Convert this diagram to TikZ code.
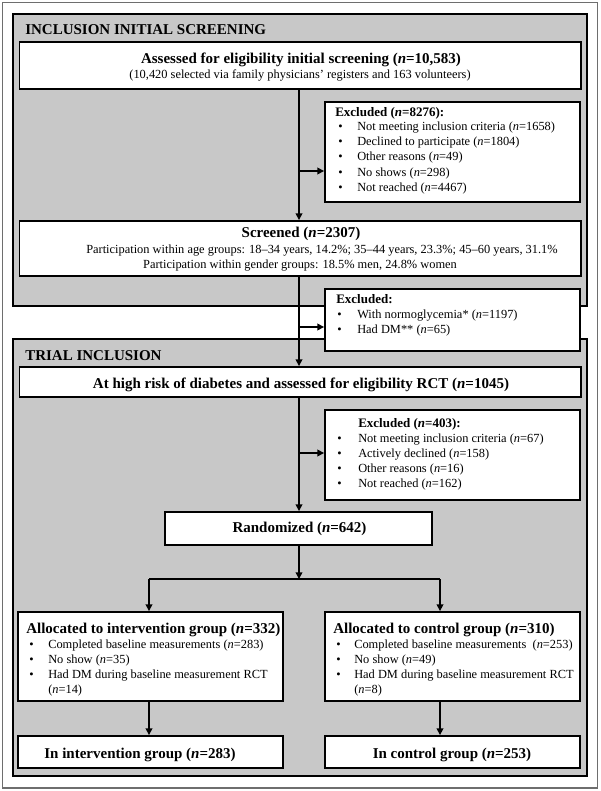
\documentclass[tikz,border=0pt]{standalone}
\usepackage{fontspec}
\setmainfont{Liberation Serif}
\usetikzlibrary{arrows.meta,calc}
\definecolor{panelgray}{RGB}{200,200,200}
\definecolor{framegray}{RGB}{110,110,110}
\tikzset{
  panel/.style={draw=black, line width=2.2pt, fill=panelgray, inner sep=0pt},
  wbox/.style={draw=black, line width=1.4pt, fill=white, inner sep=0pt},
  frame/.style={draw=framegray, line width=0.8pt, inner sep=0pt},
  head/.style={font=\fontsize{11.25}{13}\selectfont\bfseries, inner sep=0pt},
  subhead/.style={font=\fontsize{9.75}{11}\selectfont\bfseries, inner sep=0pt},
  reg/.style={font=\fontsize{9.3}{11.4}\selectfont, inner sep=0pt},
  arr/.style={-{Triangle[length=5pt,width=5pt]}, line width=1.1pt},
  ln/.style={line width=1.1pt},
}
\newcommand{\mkbox}[6]{%
  \node[#1, minimum width={(#5-#3)*0.75pt}, minimum height={(#6-#4)*0.75pt}] (#2) at ({(#3+#5)/2},{(#4+#6)/2}) {};}
\newcommand{\bitem}[5]{%
  \node[reg, anchor=base west] (#1b) at (#2,#4) {\textbullet};
  \node[reg, anchor=base west] (#1) at (#3,#4) {#5};}
\begin{document}
\begin{tikzpicture}[x=0.75pt,y=-0.75pt]
\useasboundingbox (0,0) rectangle (600,791);
% outer frame
\mkbox{frame}{outer}{2.7}{2.7}{597.5}{788}
% panels
\mkbox{panel}{p1}{13}{14}{587}{306}
\mkbox{panel}{p2}{13}{339}{587}{776}
\node[head, anchor=base west] (t1) at (25,34.5) {INCLUSION INITIAL SCREENING};
\node[head, anchor=base west] (t2) at (25,360) {TRIAL INCLUSION};
% boxes
\mkbox{wbox}{assess}{19.5}{42}{581}{89}
\mkbox{wbox}{ex1}{325}{102}{580}{202}
\mkbox{wbox}{screened}{19.5}{221}{581}{276}
\mkbox{wbox}{ex2}{325}{289}{580}{351}
\mkbox{wbox}{highrisk}{19.5}{367}{581}{397}
\mkbox{wbox}{ex3}{325}{410}{580}{500}
\mkbox{wbox}{rand}{165}{512}{432}{545}
\mkbox{wbox}{allocL}{18}{612}{283}{701}
\mkbox{wbox}{allocR}{325}{612}{580}{701}
\mkbox{wbox}{finL}{18}{736}{283}{768}
\mkbox{wbox}{finR}{325}{736}{580}{768}
% texts
\node[head, anchor=base] (assessT) at (301,64) {Assessed for eligibility initial screening ({\itshape n}=10,583)};
\node[reg, anchor=base] (assessS) at (300,79) {(10,420 selected via family physicians’ registers and 163 volunteers)};
\node[subhead, anchor=base west] (ex1T) at (335,116.5) {Excluded ({\itshape n}=8276):};
\bitem{ex1a}{338}{357}{130.5}{Not meeting inclusion criteria ({\itshape n}=1658)}
\bitem{ex1c}{338}{357}{145.7}{Declined to participate ({\itshape n}=1804)}
\bitem{ex1d}{338}{357}{160.9}{Other reasons ({\itshape n}=49)}
\bitem{ex1e}{338}{357}{176.1}{No shows ({\itshape n}=298)}
\bitem{ex1f}{338}{357}{191.3}{Not reached ({\itshape n}=4467)}
\node[head, anchor=base] (scrT) at (301,238) {Screened ({\itshape n}=2307)};
\node[reg, anchor=base] (scrA) at (322,254) {Participation within age groups: 18–34 years, 14.2\%; 35–44 years, 23.3\%; 45–60 years, 31.1\%};
\node[reg, anchor=base] (scrB) at (300,269) {Participation within gender groups: 18.5\% men, 24.8\% women};
\node[subhead, anchor=base west] (ex2T) at (336,303.5) {Excluded:};
\bitem{ex2a}{337}{357}{318}{With normoglycemia* ({\itshape n}=1197)}
\bitem{ex2b}{337}{357}{333}{Had DM** ({\itshape n}=65)}
\node[head, anchor=base] (hrT) at (301,388) {At high risk of diabetes and assessed for eligibility RCT ({\itshape n}=1045)};
\node[subhead, anchor=base west] (ex3T) at (358,427.5) {Excluded ({\itshape n}=403):};
\bitem{ex3a}{337}{358}{442}{Not meeting inclusion criteria ({\itshape n}=67)}
\bitem{ex3b}{337}{358}{457.3}{Actively declined ({\itshape n}=158)}
\bitem{ex3c}{337}{358}{472.6}{Other reasons ({\itshape n}=16)}
\bitem{ex3d}{337}{358}{487.9}{Not reached ({\itshape n}=162)}
\node[head, anchor=base] (randT) at (299.5,532) {Randomized ({\itshape n}=642)};
\node[head, anchor=base west] (alLT) at (26,633) {Allocated to intervention group ({\itshape n}=332)};
\bitem{alLa}{29}{48}{648.5}{Completed baseline measurements ({\itshape n}=283)}
\bitem{alLb}{29}{48}{663.5}{No show ({\itshape n}=35)}
\bitem{alLc}{29}{48}{678.5}{Had DM during baseline measurement RCT}
\node[reg, anchor=base west] (alLd) at (48,693.5) {({\itshape n}=14)};
\node[head, anchor=base west] (alRT) at (333,633) {Allocated to control group ({\itshape n}=310)};
\bitem{alRa}{336}{354}{648.5}{Completed baseline measurements\ \ ({\itshape n}=253)}
\bitem{alRb}{336}{354}{663.5}{No show ({\itshape n}=49)}
\bitem{alRc}{336}{354}{678.5}{Had DM during baseline measurement RCT}
\node[reg, anchor=base west] (alRd) at (354,693.5) {({\itshape n}=8)};
\node[head, anchor=base] (finLT) at (140,758) {In intervention group ({\itshape n}=283)};
\node[head, anchor=base] (finRT) at (452,758) {In control group ({\itshape n}=253)};
% connectors
\coordinate (sp) at (299,0);
\coordinate (a1) at (299,171);
\coordinate (a2) at (299,327);
\coordinate (a3) at (299,453);
\coordinate (br) at (299,579);
\coordinate (bl) at (149,579);
\coordinate (bR) at (440,579);
\draw[arr] (assess.south -| sp) -- (screened.north -| sp);
\draw[arr] (a1) -- (a1 -| ex1.west);
\draw[arr] (screened.south -| sp) -- (highrisk.north -| sp);
\draw[arr] (a2) -- (a2 -| ex2.west);
\draw[arr] (highrisk.south -| sp) -- (rand.north -| sp);
\draw[arr] (a3) -- (a3 -| ex3.west);
\draw[arr] (rand.south -| sp) -- (br);
\draw[ln] (bl) -- (bR);
\draw[arr] (bl) -- (allocL.north -| bl);
\draw[arr] (bR) -- (allocR.north -| bR);
\draw[arr] (allocL.south -| bl) -- (finL.north -| bl);
\draw[arr] (allocR.south -| bR) -- (finR.north -| bR);
\end{tikzpicture}
\end{document}
